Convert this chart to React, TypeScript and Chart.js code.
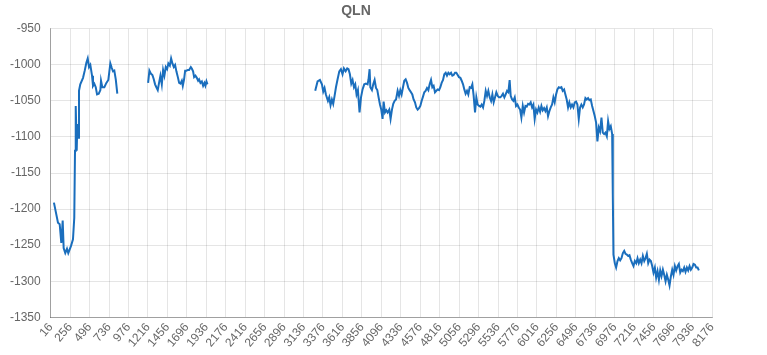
import React, { useEffect, useRef } from "react";
import { Chart, registerables } from "chart.js";

Chart.register(...registerables);

const TITLE = "QLN";
const SERIES_LABEL = "QLN";

const tickValues: number[] = [
  16, 256, 496, 736, 976, 1216, 1456, 1696, 1936, 2176, 2416, 2656, 2896, 3136,
  3376, 3616, 3856, 4096, 4336, 4576, 4816, 5056, 5296, 5536, 5776, 6016, 6256,
  6496, 6736, 6976, 7216, 7456, 7696, 7936, 8176,
];

const yTicks = { min: -1350, max: -950, step: 50 };

// segment 1
const xs1: number[] = [56, 106, 127, 147, 164, 176, 196, 217, 233, 267, 291, 307, 316, 325, 337, 345, 353, 365, 381, 415, 436, 456, 473, 489, 505, 526, 538, 554, 572, 588, 609, 629, 637, 653, 678, 703, 727, 752, 769, 785, 801, 819, 838];
const ys1: number[] = [-1191, -1219, -1221, -1247, -1216, -1254, -1261, -1255, -1261, -1251, -1242, -1212, -1119, -1057, -1119, -1082, -1101, -1036, -1027, -1018, -1008, -997, -991, -1003, -1000, -1015, -1029, -1026, -1031, -1041, -1040, -1035, -1022, -1031, -1031, -1025, -1021, -998, -1004, -1009, -1008, -1020, -1040];

// segment 2
const xs2: number[] = [1218, 1234, 1251, 1271, 1288, 1304, 1320, 1337, 1353, 1370, 1387, 1403, 1419, 1436, 1452, 1468, 1486, 1502, 1518, 1535, 1551, 1567, 1585, 1601, 1617, 1634, 1646, 1662, 1675, 1691, 1708, 1724, 1745, 1757, 1773, 1786, 1802, 1819, 1835, 1847, 1864, 1881, 1897, 1913, 1925, 1938, 1950];
const ys2: number[] = [-1025, -1008, -1012, -1014, -1020, -1027, -1031, -1035, -1025, -1015, -1027, -1007, -1015, -1003, -1006, -998, -1001, -991, -998, -1003, -1000, -1009, -1017, -1025, -1026, -1022, -1029, -1020, -1008, -1008, -1007, -1007, -1003, -1005, -1009, -1017, -1015, -1018, -1022, -1020, -1025, -1023, -1029, -1025, -1029, -1023, -1027];

// segment 3
const xs3: number[] = [3280, 3309, 3338, 3363, 3379, 3395, 3412, 3437, 3453, 3469, 3486, 3502, 3519, 3536, 3556, 3577, 3597, 3617, 3634, 3655, 3675, 3691, 3708, 3725, 3741, 3758, 3774, 3790, 3807, 3827, 3845, 3864, 3885, 3906, 3926, 3938, 3951, 3960, 3980, 3996, 4013, 4030, 4046, 4062, 4079, 4095, 4111, 4124, 4141, 4157, 4173, 4194, 4210, 4227, 4243, 4260, 4277, 4297, 4314, 4330, 4346, 4363, 4379, 4396, 4413, 4429, 4445, 4462, 4478, 4494, 4511, 4527, 4544, 4561, 4577, 4593, 4610, 4626, 4642, 4659, 4676, 4692, 4709, 4725, 4741, 4758, 4774, 4790, 4808, 4824, 4840, 4857, 4873, 4890, 4906, 4923, 4939, 4956, 4972, 4988, 5005, 5021, 5038, 5054, 5071, 5087, 5104, 5120, 5136, 5153, 5169, 5186, 5203, 5219, 5235, 5252, 5268, 5284, 5302, 5318, 5334, 5351, 5367, 5384, 5400, 5416, 5433, 5450, 5466, 5482, 5499, 5515, 5532, 5548, 5564, 5581, 5597, 5614, 5630, 5647, 5663, 5679, 5692, 5709, 5725, 5742, 5758, 5775, 5791, 5808, 5824, 5841, 5857, 5874, 5890, 5907, 5923, 5939, 5956, 5972, 5988, 6005, 6021, 6038, 6055, 6071, 6087, 6104, 6120, 6137, 6153, 6170, 6186, 6203, 6219, 6235, 6252, 6268, 6285, 6301, 6318, 6334, 6351, 6367, 6383, 6400, 6416, 6433, 6449, 6466, 6482, 6499, 6515, 6532, 6548, 6564, 6581, 6597, 6614, 6630, 6647, 6663, 6680, 6697, 6713, 6729, 6746, 6762, 6779, 6795, 6812, 6828, 6845, 6861, 6878, 6894, 6910, 6927, 6944, 6952, 6960, 6977, 6993, 7010, 7026, 7043, 7059, 7076, 7093, 7109, 7125, 7142, 7158, 7174, 7191, 7207, 7224, 7241, 7257, 7273, 7290, 7306, 7323, 7340, 7356, 7372, 7389, 7405, 7422, 7438, 7454, 7471, 7487, 7504, 7521, 7537, 7553, 7570, 7586, 7603, 7619, 7636, 7652, 7669, 7685, 7701, 7718, 7734, 7751, 7767, 7784, 7800, 7816, 7833, 7849, 7866, 7882, 7899, 7915, 7932, 7948, 7965, 7981, 7998, 8014];
const ys3: number[] = [-1036, -1023, -1021, -1027, -1037, -1032, -1041, -1050, -1045, -1056, -1048, -1054, -1043, -1031, -1020, -1009, -1006, -1013, -1005, -1009, -1005, -1006, -1013, -1026, -1021, -1031, -1027, -1041, -1035, -1066, -1045, -1034, -1027, -1026, -1027, -1020, -1006, -1031, -1035, -1027, -1021, -1032, -1035, -1045, -1055, -1062, -1075, -1051, -1066, -1063, -1066, -1062, -1075, -1062, -1054, -1050, -1048, -1036, -1043, -1035, -1041, -1031, -1022, -1020, -1025, -1032, -1035, -1038, -1041, -1048, -1052, -1059, -1062, -1060, -1057, -1050, -1044, -1038, -1036, -1032, -1035, -1027, -1021, -1031, -1029, -1038, -1036, -1034, -1035, -1031, -1025, -1021, -1013, -1011, -1015, -1011, -1013, -1011, -1015, -1014, -1011, -1011, -1014, -1017, -1018, -1022, -1027, -1034, -1040, -1036, -1041, -1031, -1032, -1027, -1043, -1066, -1045, -1055, -1057, -1058, -1055, -1059, -1050, -1036, -1043, -1036, -1045, -1050, -1041, -1052, -1045, -1038, -1043, -1045, -1045, -1043, -1040, -1045, -1041, -1036, -1038, -1021, -1043, -1048, -1050, -1045, -1057, -1055, -1059, -1062, -1073, -1057, -1066, -1057, -1058, -1054, -1055, -1052, -1059, -1055, -1075, -1062, -1066, -1059, -1065, -1057, -1063, -1060, -1064, -1059, -1071, -1064, -1059, -1055, -1045, -1052, -1041, -1034, -1031, -1032, -1031, -1036, -1034, -1041, -1048, -1059, -1052, -1059, -1055, -1059, -1052, -1051, -1055, -1075, -1059, -1055, -1059, -1055, -1046, -1048, -1046, -1049, -1048, -1057, -1064, -1071, -1080, -1106, -1087, -1092, -1073, -1094, -1096, -1094, -1099, -1078, -1089, -1085, -1096, -1180, -1263, -1275, -1281, -1272, -1268, -1271, -1268, -1261, -1258, -1262, -1263, -1265, -1264, -1270, -1275, -1279, -1272, -1275, -1268, -1275, -1270, -1275, -1265, -1272, -1268, -1262, -1275, -1270, -1272, -1279, -1288, -1281, -1295, -1286, -1298, -1285, -1293, -1284, -1291, -1300, -1291, -1298, -1306, -1293, -1284, -1291, -1279, -1285, -1279, -1276, -1288, -1284, -1286, -1281, -1287, -1281, -1285, -1279, -1284, -1281, -1276, -1277, -1281, -1281, -1285];

// gaps (no data) between segments
const gapXs: number[] = [1000, 2600];

function buildPoints() {
  const pts: { x: number; y: number | null }[] = [];
  xs1.forEach((x, i) => pts.push({ x, y: ys1[i] }));
  pts.push({ x: gapXs[0], y: null });
  xs2.forEach((x, i) => pts.push({ x, y: ys2[i] }));
  pts.push({ x: gapXs[1], y: null });
  xs3.forEach((x, i) => pts.push({ x, y: ys3[i] }));
  return pts;
}

export default function App() {
  const ref = useRef<HTMLCanvasElement | null>(null);

  useEffect(() => {
    if (!ref.current) return;
    Chart.defaults.font.family = "Arial, 'Liberation Sans', Helvetica, sans-serif";
    Chart.defaults.color = "#666";
    const chart = new Chart(ref.current, {
      type: "line",
      data: {
        datasets: [
          {
            label: SERIES_LABEL,
            data: buildPoints() as any,
            borderColor: "#1a6ebd",
            backgroundColor: "#1a6ebd",
            borderWidth: 2,
            pointRadius: 0,
            tension: 0,
            spanGaps: false,
            fill: false,
          },
        ],
      },
      options: {
        animation: false,
        responsive: true,
        maintainAspectRatio: false,
        layout: { padding: { left: 0, right: 55, top: 2, bottom: 2 } },
        plugins: {
          legend: { display: false },
          tooltip: { enabled: false },
          title: {
            display: true,
            text: TITLE,
            color: "#666",
            font: { size: 14, weight: "bold" },
            padding: { top: 1, bottom: 9 },
          },
        },
        scales: {
          x: {
            type: "linear",
            min: tickValues[0],
            max: tickValues[tickValues.length - 1],
            afterBuildTicks: (scale: any) => {
              scale.ticks = tickValues.map((v) => ({ value: v }));
            },
            grid: { color: "rgba(0,0,0,0.1)", drawTicks: false },
            border: { color: "rgba(0,0,0,0.3)" },
            ticks: {
              autoSkip: false,
              minRotation: 50,
              maxRotation: 50,
              padding: 3,
              color: "#666",
              font: { size: 12 },
              callback: (v: any) => String(v),
            },
          },
          y: {
            min: yTicks.min,
            max: yTicks.max,
            grid: { color: "rgba(0,0,0,0.1)", drawTicks: false },
            border: { color: "rgba(0,0,0,0.3)" },
            ticks: {
              stepSize: yTicks.step,
              padding: 10,
              color: "#666",
              font: { size: 12 },
              callback: (v: any) => String(v),
            },
          },
        },
      },
    });
    return () => chart.destroy();
  }, []);

  return (
    <div style={{ position: "fixed", left: 0, top: 0, width: 767, height: 355 }}>
      <canvas ref={ref} />
    </div>
  );
}
